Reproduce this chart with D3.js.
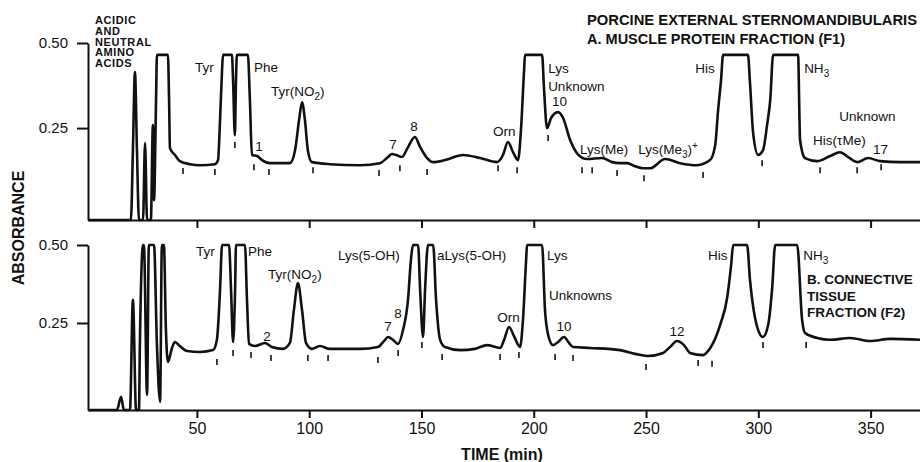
<!DOCTYPE html>
<html>
<head>
<meta charset="utf-8">
<script src="https://cdn.jsdelivr.net/npm/d3@7"></script>
<style>
  body { margin: 0; background: #fff; }
  svg { display: block; }
  text { font-family: "Liberation Sans", Arial, Helvetica, sans-serif; fill: #111; }
</style>
</head>
<body>
<div id="chart"></div>
<script>
const width = 920, height = 462;

// time axis ticks (min) and absorbance ticks
const xTicks = [50, 100, 150, 200, 250, 300, 350];
const yTicks = [0.25, 0.50];

// A. muscle protein fraction (F1): [time, absorbance]
const muscleTrace = [
  [1.5,-0.02],[20.6,-0.02],[21.5,0.185],[22.4,0.415],[23.3,0.185],[24.2,-0.02],
  [26.0,-0.02],[26.9,0.206],[27.8,-0.02],[29.5,-0.02],[30.4,0.259],[30.9,0.038],
  [31.8,0.332],[32.2,0.465],[37.1,0.465],[37.6,0.332],[38.0,0.191],[40.2,0.171],
  [42.4,0.153],[46.9,0.144],[51.4,0.141],[58.0,0.144],[59.4,0.156],[60.3,0.274],
  [61.2,0.421],[61.6,0.465],[65.6,0.465],[66.1,0.391],[66.9,0.229],[67.4,0.391],
  [67.8,0.465],[72.7,0.465],[73.6,0.332],[74.5,0.171],[76.8,0.168],[79.0,0.156],
  [82.5,0.147],[91.4,0.147],[93.7,0.185],[95.5,0.274],[96.8,0.326],[98.1,0.274],
  [99.4,0.185],[101.2,0.150],[109.2,0.144],[122.6,0.141],[131.5,0.147],[135.1,0.165],
  [136.9,0.174],[138.7,0.171],[141.3,0.165],[144.0,0.194],[147.1,0.224],[149.4,0.194],
  [152.5,0.162],[155.2,0.150],[160.5,0.156],[168.5,0.171],[176.1,0.162],[183.7,0.150],
  [186.3,0.171],[188.5,0.209],[190.8,0.179],[193.0,0.156],[194.3,0.244],[195.7,0.421],
  [196.1,0.465],[203.7,0.465],[204.6,0.362],[205.9,0.250],[207.7,0.279],[210.8,0.297],
  [213.1,0.279],[216.2,0.215],[219.3,0.176],[223.7,0.159],[230.4,0.162],[234.9,0.150],
  [238.4,0.147],[241.6,0.147],[245.1,0.138],[248.7,0.132],[251.8,0.132],[258.5,0.159],
  [265.2,0.147],[272.7,0.141],[278.5,0.156],[280.8,0.200],[282.1,0.303],[283.4,0.391],
  [284.3,0.465],[295.4,0.465],[296.3,0.382],[297.7,0.235],[299.9,0.171],[302.1,0.185],
  [303.9,0.259],[305.3,0.332],[306.6,0.465],[317.7,0.465],[318.6,0.215],[320.8,0.162],
  [326.2,0.153],[332.0,0.168],[336.4,0.179],[340.0,0.165],[344.0,0.150],[348.9,0.162],
  [354.2,0.153],[363.2,0.150],[372.0,0.150]
];

// B. connective tissue fraction (F2): [time, absorbance]
const connectiveTrace = [
  [1.5,-0.03],[14.4,-0.03],[16.2,0.013],[17.5,-0.03],[20.2,-0.03],[21.5,0.324],
  [22.9,-0.03],[24.2,-0.03],[24.6,0.179],[26.0,0.50],[26.4,0.50],[27.8,0.019],
  [28.6,0.50],[30.9,0.50],[32.2,0.179],[33.6,-0.003],[34.4,0.50],[35.3,0.50],
  [36.2,0.228],[37.1,0.125],[38.9,0.170],[40.2,0.189],[42.4,0.176],[45.6,0.160],
  [51.4,0.157],[57.2,0.163],[58.9,0.196],[60.3,0.356],[61.2,0.50],[64.3,0.50],
  [65.2,0.356],[66.1,0.189],[67.0,0.356],[67.4,0.50],[71.4,0.50],[72.3,0.324],
  [73.2,0.183],[75.9,0.176],[80.3,0.186],[83.4,0.173],[88.3,0.167],[91.4,0.186],
  [93.2,0.292],[95.0,0.378],[96.8,0.292],[98.6,0.186],[101.2,0.167],[104.8,0.176],
  [109.2,0.167],[122.6,0.167],[130.6,0.173],[133.3,0.192],[135.1,0.205],[137.3,0.196],
  [139.6,0.183],[141.8,0.228],[144.0,0.324],[145.3,0.452],[146.2,0.50],[148.5,0.50],
  [149.4,0.356],[150.7,0.205],[151.6,0.356],[152.9,0.50],[155.2,0.50],[156.5,0.324],
  [158.3,0.196],[160.5,0.173],[167.2,0.163],[173.8,0.167],[179.2,0.179],[185.0,0.170],
  [186.8,0.196],[189.0,0.237],[191.2,0.208],[193.9,0.173],[195.2,0.260],[196.6,0.452],
  [197.0,0.50],[203.7,0.50],[205.0,0.292],[206.4,0.212],[208.6,0.179],[210.8,0.189],
  [213.5,0.205],[215.7,0.186],[217.5,0.173],[225.1,0.170],[238.4,0.163],[245.1,0.151],
  [250.5,0.144],[257.6,0.154],[260.7,0.173],[263.8,0.192],[266.9,0.179],[269.6,0.154],
  [275.4,0.147],[277.6,0.160],[279.9,0.186],[283.0,0.244],[286.1,0.330],[287.9,0.436],
  [288.8,0.50],[295.0,0.50],[296.3,0.388],[299.5,0.237],[302.1,0.205],[304.4,0.244],
  [306.2,0.365],[307.5,0.50],[317.3,0.50],[319.5,0.260],[320.8,0.218],[326.2,0.202],
  [332.0,0.196],[340.9,0.202],[349.8,0.192],[358.7,0.199],[372.0,0.196]
];

// fraction-collection marks under the traces: [time, absorbance]
const muscleMarks = [
  [43.8,0.124],[58.0,0.121],[66.9,0.200],[75.4,0.135],[82.1,0.121],[101.7,0.126],
  [131.1,0.118],[140.4,0.132],[152.5,0.121],[184.1,0.132],[192.6,0.126],[206.4,0.221],
  [221.5,0.126],[226.0,0.126],[237.1,0.118],[249.1,0.103],[275.4,0.112],[301.7,0.147],
  [327.5,0.126],[344.0,0.126],[354.7,0.135]
];
const connectiveMarks = [
  [58.9,0.125],[66.1,0.154],[74.1,0.147],[83.0,0.138],[99.4,0.138],[108.4,0.138],
  [130.6,0.131],[139.6,0.154],[150.2,0.179],[159.2,0.141],[185.0,0.141],[193.4,0.147],
  [209.5,0.141],[217.5,0.138],[250.0,0.109],[273.2,0.122],[279.4,0.119],[302.1,0.179],
  [321.3,0.179]
];

// peak names: [text, time, absorbance, anchor]  (_x subscript, ^x superscript)
const muscleLabels = [
  ["Tyr", 49.1, 0.415, "start"],
  ["Phe", 75.4, 0.415, "start"],
  ["Tyr(NO_2)", 83.0, 0.344, "start"],
  ["1", 77.6, 0.182, "middle"],
  ["7", 137.3, 0.188, "middle"],
  ["8", 146.7, 0.241, "middle"],
  ["Orn", 181.9, 0.226, "start"],
  ["Lys", 206.4, 0.412, "start"],
  ["Unknown", 206.4, 0.359, "start"],
  ["10", 208.1, 0.315, "start"],
  ["Lys(Me)", 220.6, 0.174, "start"],
  ["Lys(Me_3)^+", 246.5, 0.174, "start"],
  ["His", 271.9, 0.412, "start"],
  ["NH_3", 320.4, 0.412, "start"],
  ["Unknown", 336.0, 0.271, "start"],
  ["His(\u03c4Me)", 324.4, 0.200, "start"],
  ["17", 351.1, 0.174, "start"]
];
const connectiveLabels = [
  ["Tyr", 49.6, 0.465, "start"],
  ["Phe", 72.8, 0.465, "start"],
  ["Tyr(NO_2)", 81.7, 0.391, "start"],
  ["2", 81.2, 0.192, "middle"],
  ["Lys(5-OH)", 112.8, 0.452, "start"],
  ["7", 135.1, 0.224, "middle"],
  ["8", 139.6, 0.266, "middle"],
  ["aLys(5-OH)", 156.9, 0.452, "start"],
  ["Orn", 183.7, 0.253, "start"],
  ["Lys", 205.9, 0.452, "start"],
  ["Unknowns", 206.8, 0.324, "start"],
  ["10", 213.5, 0.224, "middle"],
  ["12", 263.8, 0.208, "middle"],
  ["His", 277.6, 0.452, "start"],
  ["NH_3", 320.0, 0.452, "start"]
];

const x = d3.scaleLinear().domain([1.5, 372]).range([88, 920]);
const yA = d3.scaleLinear().domain([-0.02, 0.5]).range([220, 43]).clamp(true);
const yB = d3.scaleLinear().domain([-0.029, 0.5]).range([410, 245]).clamp(true);

const svg = d3.select('#chart').append('svg')
  .attr('width', width).attr('height', height);

const panels = [
  {trace: muscleTrace, marks: muscleMarks, labels: muscleLabels, y: yA, showTime: false},
  {trace: connectiveTrace, marks: connectiveMarks, labels: connectiveLabels, y: yB, showTime: true}
];

// writes a label, handling _sub and ^sup characters
function addLabel(g, str, px, py, anchor) {
  const t = g.append('text')
    .attr('x', px).attr('y', py)
    .attr('text-anchor', anchor)
    .attr('font-size', 13.5);
  let shift = 0;
  str.split(/([_^].)/).filter(s => s.length).forEach(part => {
    let dy = 0, size = null, txt = part;
    if (part[0] === '_' && part.length === 2) {
      dy = 4 - shift; shift = 4; size = 10; txt = part[1];
    } else if (part[0] === '^' && part.length === 2) {
      dy = -5 - shift; shift = -5; size = 10; txt = part[1];
    } else {
      dy = -shift; shift = 0;
    }
    const ts = t.append('tspan').attr('dy', dy).text(txt);
    if (size) ts.attr('font-size', size);
  });
}

panels.forEach(p => {
  const g = svg.append('g');
  const base = p.y.range()[0];

  // time axis
  const xa = g.append('g')
    .attr('transform', `translate(0,${base})`)
    .call(d3.axisBottom(x).tickValues(xTicks).tickSize(8).tickSizeOuter(0).tickPadding(5)
      .tickFormat(p.showTime ? d3.format('d') : ''));
  xa.selectAll('text').attr('font-size', 16).attr('font-family', null);

  // absorbance axis
  const ya = g.append('g')
    .attr('transform', 'translate(88,0)')
    .call(d3.axisLeft(p.y).tickValues(yTicks).tickSize(11).tickSizeOuter(0).tickPadding(9)
      .tickFormat(d3.format('.2f')));
  ya.selectAll('text').attr('font-size', 15).attr('font-family', null);

  [xa, ya].forEach(a => {
    a.select('.domain').attr('stroke', '#111').attr('stroke-width', 2);
    a.selectAll('.tick line').attr('stroke', '#111').attr('stroke-width', 2);
  });

  const line = d3.line()
    .x(d => x(d[0]))
    .y(d => p.y(d[1]))
    .curve(d3.curveMonotoneX);

  g.append('path')
    .datum(p.trace)
    .attr('d', line)
    .attr('fill', 'none')
    .attr('stroke', '#111')
    .attr('stroke-width', 2.6)
    .attr('stroke-linejoin', 'round');

  g.append('g').selectAll('line')
    .data(p.marks)
    .join('line')
    .attr('x1', d => x(d[0])).attr('x2', d => x(d[0]))
    .attr('y1', d => p.y(d[1]) - 3).attr('y2', d => p.y(d[1]) + 3)
    .attr('stroke', '#111')
    .attr('stroke-width', 1.6);

  p.labels.forEach(d => addLabel(g, d[0], x(d[1]), p.y(d[2]), d[3]));
});

// headings and axis titles
svg.append('text')
  .attr('x', 0).attr('y', 0)
  .attr('transform', 'translate(24,228) rotate(-90)')
  .attr('text-anchor', 'middle')
  .attr('font-weight', 'bold')
  .attr('font-size', 16)
  .text('ABSORBANCE');

svg.append('text')
  .attr('x', 502).attr('y', 460)
  .attr('text-anchor', 'middle')
  .attr('font-weight', 'bold')
  .attr('font-size', 16)
  .text('TIME (min)');

const titleA = ['PORCINE EXTERNAL STERNOMANDIBULARIS', 'A. MUSCLE PROTEIN FRACTION (F1)'];
const titleWidths = [330, 258];
titleA.forEach((t, i) => {
  svg.append('text')
    .attr('x', 587).attr('y', 25 + i * 19)
    .attr('font-weight', 'bold')
    .attr('font-size', 14.5)
    .attr('textLength', titleWidths[i])
    .attr('lengthAdjust', 'spacingAndGlyphs')
    .text(t);
});

const titleB = ['B. CONNECTIVE', 'TISSUE', 'FRACTION (F2)'];
titleB.forEach((t, i) => {
  svg.append('text')
    .attr('x', 807).attr('y', 284 + i * 16.5)
    .attr('font-weight', 'bold')
    .attr('font-size', 13.5)
    .text(t);
});

const acidic = ['ACIDIC', 'AND', 'NEUTRAL', 'AMINO', 'ACIDS'];
acidic.forEach((t, i) => {
  svg.append('text')
    .attr('x', 95).attr('y', 24 + i * 10.8)
    .attr('font-size', 11)
    .attr('font-weight', 600)
    .attr('letter-spacing', 0.6)
    .text(t);
});
</script>
</body>
</html>
